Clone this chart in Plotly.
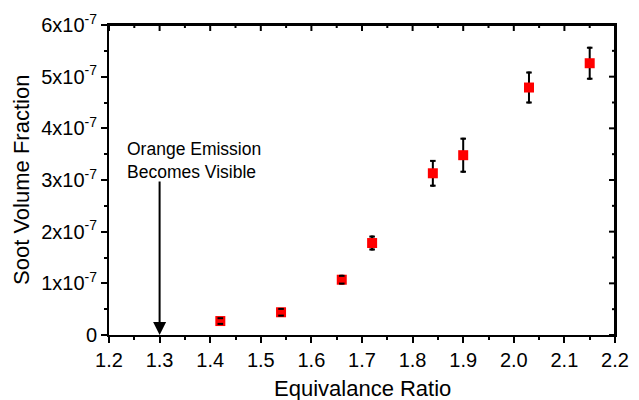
import plotly.graph_objects as go

ratio = [1.42, 1.54, 1.66, 1.72, 1.84, 1.90, 2.03, 2.15]
soot = [2.7e-8, 4.4e-8, 1.07e-7, 1.78e-7, 3.13e-7, 3.48e-7, 4.79e-7, 5.26e-7]
soot_err = [0.55e-8, 0.65e-8, 0.75e-8, 1.25e-8, 2.4e-8, 3.2e-8, 2.9e-8, 3.0e-8]

x_ticks = [1.2, 1.3, 1.4, 1.5, 1.6, 1.7, 1.8, 1.9, 2.0, 2.1, 2.2]
x_ticklabels = ["1.2", "1.3", "1.4", "1.5", "1.6", "1.7", "1.8", "1.9", "2.0", "2.1", "2.2"]
y_ticks = [0, 1e-7, 2e-7, 3e-7, 4e-7, 5e-7, 6e-7]
y_ticklabels = ["0", "1x10<sup>-7</sup>", "2x10<sup>-7</sup>", "3x10<sup>-7</sup>",
                "4x10<sup>-7</sup>", "5x10<sup>-7</sup>", "6x10<sup>-7</sup>"]

x_title = "Equivalance Ratio"
y_title = "Soot Volume Fraction"
annot_text = "Orange Emission<br>Becomes Visible"
annot_x = 1.3

FONT = "Liberation Sans, Arial, sans-serif"

W, H = 639, 400
ML, MR, MT, MB = 109, 24, 25, 65
PW, PH = W - ML - MR, H - MT - MB

xrange = [x_ticks[0], x_ticks[-1]]
yrange = [y_ticks[0], y_ticks[-1]]

fig = go.Figure()
fig.add_trace(go.Scatter(
    x=ratio, y=soot, mode="markers",
    marker=dict(symbol="square", size=10, color="#ff0000", line=dict(width=0)),
    error_y=dict(type="data", array=soot_err, color="black", thickness=2, width=1.5),
    showlegend=False, hoverinfo="skip",
))
caps_y = [v + e for v, e in zip(soot, soot_err)] + [v - e for v, e in zip(soot, soot_err)]
fig.add_trace(go.Scatter(
    x=ratio + ratio, y=caps_y, mode="markers",
    marker=dict(symbol="line-ew", size=4, line=dict(width=2, color="black")),
    showlegend=False, hoverinfo="skip",
))

fig.update_layout(
    width=W, height=H,
    margin=dict(l=ML, r=MR, t=MT, b=MB),
    plot_bgcolor="white", paper_bgcolor="white",
    dragmode=False,
    font=dict(family=FONT, color="black", size=20),
    xaxis=dict(range=xrange, tickvals=x_ticks, ticktext=x_ticklabels,
               ticks="outside", ticklen=6, tickwidth=2, tickcolor="black",
               minor=dict(dtick=0.05, tick0=1.2, ticks="outside", ticklen=3, tickwidth=2, tickcolor="black"),
               showline=True, mirror=True, linewidth=2, linecolor="black",
               showgrid=False, zeroline=False, automargin=False, fixedrange=True,
               tickfont=dict(size=20, family=FONT)),
    yaxis=dict(range=yrange, tickvals=y_ticks, ticktext=y_ticklabels,
               ticks="outside", ticklen=6, tickwidth=2, tickcolor="black",
               minor=dict(dtick=0.5e-7, tick0=0, ticks="outside", ticklen=3, tickwidth=2, tickcolor="black"),
               showline=True, mirror=True, linewidth=2, linecolor="black",
               showgrid=False, zeroline=False, automargin=False, fixedrange=True,
               tickfont=dict(size=20, family=FONT)),
)

# frame (top and right sides) with inward ticks, built from the tick arrays
shapes = [dict(type="line", xref="paper", yref="paper", x0=0, x1=1, y0=1, y1=1,
               line=dict(color="black", width=2), layer="above"),
          dict(type="line", xref="paper", yref="paper", x0=1, x1=1, y0=0, y1=1,
               line=dict(color="black", width=2), layer="above")]
x_minor = [(a + b) / 2 for a, b in zip(x_ticks[:-1], x_ticks[1:])]
y_minor = [(a + b) / 2 for a, b in zip(y_ticks[:-1], y_ticks[1:])]
for xs, ln in ((x_ticks, 6), (x_minor, 3)):
    for xv in xs:
        shapes.append(dict(type="line", xref="x", yref="paper", x0=xv, x1=xv,
                           y0=1, y1=1 - ln / PH, line=dict(color="black", width=2), layer="above"))
for ys, ln in ((y_ticks, 6), (y_minor, 3)):
    for yv in ys:
        shapes.append(dict(type="line", xref="paper", yref="y", x0=1, x1=1 - ln / PW,
                           y0=yv, y1=yv, line=dict(color="black", width=2), layer="above"))
fig.update_layout(shapes=shapes)

fig.add_annotation(x=0.5, y=-0.171, xref="paper", yref="paper", text=x_title, showarrow=False,
                   xanchor="center", yanchor="middle", font=dict(size=22, family=FONT, color="black"))
fig.add_annotation(x=-0.174, y=0.5, xref="paper", yref="paper", text=y_title, showarrow=False,
                   textangle=-90, xanchor="center", yanchor="middle",
                   font=dict(size=22, family=FONT, color="black"))

fig.add_annotation(x=annot_x, y=0, ax=annot_x, ay=3.0e-7, xref="x", yref="y",
                   axref="x", ayref="y", showarrow=True, arrowhead=2, arrowsize=1.3,
                   arrowwidth=2, arrowcolor="black", text="")
fig.add_annotation(x=1.2316, y=3.83e-7, xref="x", yref="y", text=annot_text,
                   showarrow=False, xanchor="left", yanchor="top", align="left",
                   font=dict(size=17.5, family=FONT, color="black"))

fig.write_html("out.html", config={"displayModeBar": False, "staticPlot": True},
               post_script="document.body.style.margin='0';document.body.style.overflow='hidden';")
